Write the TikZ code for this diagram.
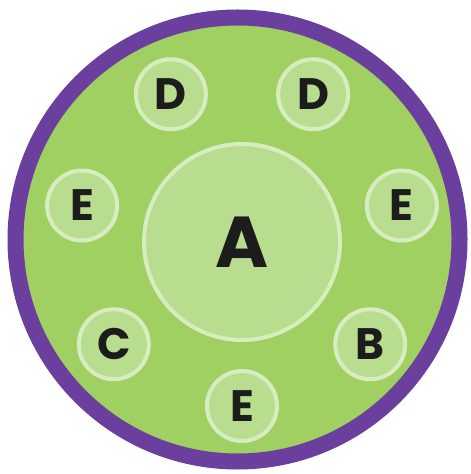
\documentclass[tikz,border=0pt]{standalone}
\usepackage{fontspec}
\setsansfont{Poppins}
\usepackage{xcolor}
\usepackage{tikz}
\usetikzlibrary{calc}
\definecolor{dgGrass}{HTML}{A0CF62}
\definecolor{dgLeaf}{HTML}{B9DD8E}
\definecolor{dgRim}{HTML}{D8EDBF}
\definecolor{dgPlum}{HTML}{6A3F9E}
\definecolor{dgInk}{HTML}{1C1C1C}
\tikzset{
  outer disc/.style={circle,draw=dgPlum,line width=8pt,fill=dgGrass,minimum size=222pt,inner sep=0pt},
  hub disc/.style={circle,draw=dgRim,line width=2pt,fill=dgLeaf,minimum size=98pt,inner sep=0pt,
    text=dgInk,font=\sffamily\bfseries\fontsize{36}{36}\selectfont},
  seat disc/.style={hub disc,minimum size=35pt,font=\sffamily\bfseries\fontsize{22}{22}\selectfont}
}

\begin{document}
\begin{tikzpicture}[x=0.5pt,y=-0.5pt]
\useasboundingbox[fill=white] (0,0) rectangle (470,474);
\node[outer disc] (rim) at (237.5,239.5) {};
\node[hub disc] (a) at (242,242) {A};
% ring of seats, 360/7 apart, starting at the bottom
\node[seat disc] (e1) at ($(a)+(-90:82pt)$) {E};
\node[seat disc] (b) at ($(a)+(-38.57:82pt)$) {B};
\node[seat disc] (e2) at ($(a)+(12.86:82pt)$) {E};
\node[seat disc] (d1) at ($(a)+(64.29:82pt)$) {D};
\node[seat disc] (d2) at ($(a)+(115.71:82pt)$) {D};
\node[seat disc] (e3) at ($(a)+(167.14:82pt)$) {E};
\node[seat disc] (c) at ($(a)+(218.57:82pt)$) {C};
\end{tikzpicture}
\end{document}
